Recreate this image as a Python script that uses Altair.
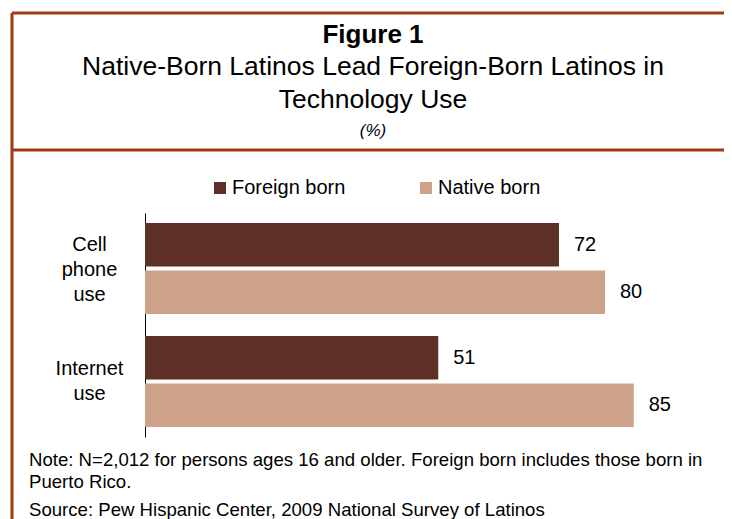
import altair as alt
import pandas as pd

# ---- data ----
categories = ["Cell phone use", "Internet use"]
series = ["Foreign born", "Native born"]
foreign_values = [72, 51]
native_values = [80, 85]
colors = ["#5E2F25", "#CDA18A"]

rows = []
for i, c in enumerate(categories):
    rows.append({"category": c, "group": series[0], "value": foreign_values[i]})
    rows.append({"category": c, "group": series[1], "value": native_values[i]})
df = pd.DataFrame(rows)
one = pd.DataFrame({"k": [0]})

FONT = "Liberation Sans"
BORDER = "#A03C12"

x_enc = alt.X("value:Q", scale=alt.Scale(domain=[0, 100]), axis=None)
y_enc = alt.Y(
    "category:N",
    sort=categories,
    scale=alt.Scale(paddingInner=0.195, paddingOuter=0.089),
    axis=alt.Axis(
        title=None,
        domain=True,
        domainColor="#000000",
        domainWidth=1,
        ticks=False,
        grid=False,
        labelExpr="datum.value == 'Cell phone use' ? ['Cell', 'phone', 'use'] : ['Internet', 'use']",
        labelAlign="center",
        labelBaseline="middle",
        labelPadding=56,
        labelOffset=alt.condition("datum.value == 'Cell phone use'", alt.value(-24), alt.value(-12)),
        labelFont=FONT,
        labelFontSize=20,
        labelLineHeight=25,
        labelColor="#000000",
    ),
)
yoff = alt.YOffset("group:N", sort=series, scale=alt.Scale(paddingInner=0.084))

base = alt.Chart(df)

bars = base.mark_bar().encode(
    x=x_enc,
    y=y_enc,
    yOffset=yoff,
    color=alt.Color(
        "group:N",
        sort=series,
        scale=alt.Scale(domain=series, range=colors),
        legend=alt.Legend(
            title=None,
            orient="none",
            legendX=65,
            legendY=-35,
            direction="horizontal",
            symbolType="square",
            symbolSize=144,
            symbolStrokeWidth=0,
            labelFont=FONT,
            labelFontSize=20,
            labelColor="#000000",
            labelOffset=2,
            columnPadding=70,
        ),
    ),
)

labels = base.mark_text(
    align="left", baseline="middle", dx=15, font=FONT, fontSize=20, color="#000000"
).encode(x="value:Q", y=alt.Y("category:N", sort=categories), yOffset=yoff, text="value:Q")


def txt(s, x, y, size, weight="normal", style="normal", align="center"):
    return alt.Chart(one).mark_text(
        text=s, font=FONT, fontSize=size, fontWeight=weight, fontStyle=style,
        align=align, baseline="alphabetic", color="#000000",
    ).encode(x=alt.value(x), y=alt.value(y))


def rule(x, x2, y, y2):
    return alt.Chart(one).mark_rule(color=BORDER, strokeWidth=3).encode(
        x=alt.value(x), x2=alt.value(x2), y=alt.value(y), y2=alt.value(y2)
    )


title = txt("Figure 1", 228, -170, 26, weight="bold")
sub1 = txt("Native-Born Latinos Lead Foreign-Born Latinos in", 228, -138, 26.5)
sub2 = txt("Technology Use", 228, -105, 26.5)
pct = txt("(%)", 228, -77, 17, style="italic")
note1 = txt("Note: N=2,012 for persons ages 16 and older. Foreign born includes those born in", -116, 253, 18.6, align="left")
note2 = txt("Puerto Rico.", -116, 275, 18.6, align="left")
note3 = txt("Source: Pew Hispanic Center, 2009 National Survey of Latinos", -116, 303, 18.6, align="left")

top_line = rule(-133, 600, -200, -200)
mid_line = rule(-133, 600, -63, -63)
left_line = rule(-133, -133, -200, 320)

chart = alt.layer(
    bars, labels, title, sub1, sub2, pct, note1, note2, note3, top_line, mid_line, left_line
).properties(
    width=575,
    height=224,
    autosize=alt.AutoSizeParams(type="none"),
    padding={"left": 137, "top": 205, "right": 4, "bottom": 82},
).configure_view(stroke=None)

chart.save("out.html", embed_options={"renderer": "svg", "actions": False})
